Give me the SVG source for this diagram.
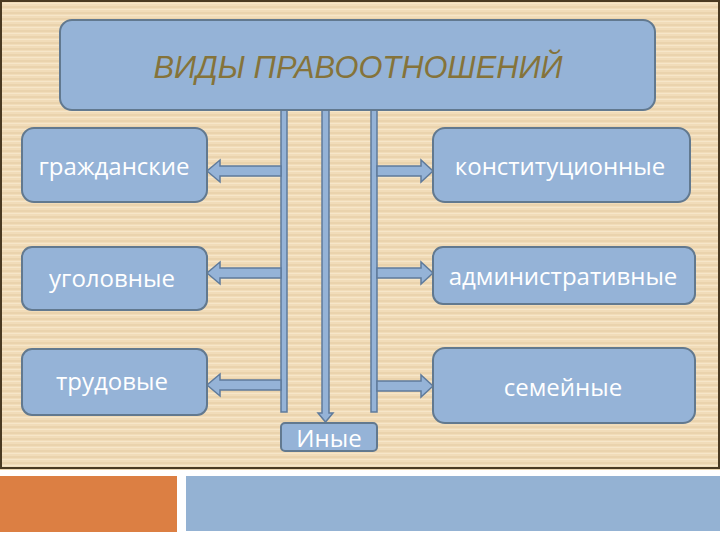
<svg xmlns="http://www.w3.org/2000/svg" width="720" height="540" viewBox="0 0 720 540">
<defs>
<pattern id="stripes" width="8" height="6" patternUnits="userSpaceOnUse">
<rect width="8" height="6" fill="#f1dcb9"/>
<rect y="0" width="8" height="2" fill="#ead3ad"/>
<rect y="3" width="8" height="1" fill="#f6e6c9"/>
</pattern>
<style>
.box{fill:#95b3d7;stroke:#62798f;stroke-width:2}
.arr{fill:#95b3d7;stroke:#5f7b9c;stroke-width:1.5}
.lbl{font-family:"Open Sans","Liberation Sans",sans-serif;font-size:24px;fill:#ffffff;text-anchor:middle}
.title{font-family:"Liberation Sans",sans-serif;font-style:italic;font-size:32px;fill:#85733a;text-anchor:middle}
</style>
</defs>
<rect width="720" height="540" fill="#ffffff"/>
<rect x="0" y="0" width="720" height="470" fill="url(#stripes)"/>
<rect x="1" y="1" width="718" height="467" fill="none" stroke="#4a3a22" stroke-width="2"/>
<rect x="0" y="476" width="177" height="56" fill="#dc7f43"/>
<rect x="186" y="476" width="534" height="55" fill="#94b2d3"/>

<g id="connectors">
<rect class="arr" x="281" y="110" width="6" height="302"/>
<path class="arr" d="M322,110 V413 H318 L325.5,422 L333,413 H329 V110 Z"/>
<rect class="arr" x="371" y="110" width="6" height="302"/>
<path class="arr" d="M281,166 H220 V160 L207,171 L220,182 V176 H281 Z"/>
<path class="arr" d="M281,268 H220 V262 L207,273 L220,284 V278 H281 Z"/>
<path class="arr" d="M281,380 H220 V374 L207,385 L220,396 V390 H281 Z"/>
<path class="arr" d="M377,166 H421 V160 L433,171 L421,182 V176 H377 Z"/>
<path class="arr" d="M377,268 H421 V262 L433,273 L421,284 V278 H377 Z"/>
<path class="arr" d="M377,381 H421 V375 L433,386 L421,397 V391 H377 Z"/>
</g>

<g id="title">
<rect class="box" x="60" y="20" width="595" height="90" rx="12"/>
<text class="title" x="358" y="78" textLength="409" lengthAdjust="spacingAndGlyphs">ВИДЫ ПРАВООТНОШЕНИЙ</text>
</g>
<g id="civil">
<rect class="box" x="22" y="128" width="185" height="74" rx="12"/>
<text class="lbl" x="114" y="175">гражданские</text>
</g>
<g id="criminal">
<rect class="box" x="22" y="247" width="185" height="63" rx="10"/>
<text class="lbl" x="112" y="287">уголовные</text>
</g>
<g id="labor">
<rect class="box" x="22" y="349" width="185" height="66" rx="10"/>
<text class="lbl" x="112" y="390">трудовые</text>
</g>
<g id="constitutional">
<rect class="box" x="433" y="128" width="257" height="74" rx="12"/>
<text class="lbl" x="560" y="175">конституционные</text>
</g>
<g id="administrative">
<rect class="box" x="433" y="247" width="262" height="57" rx="10"/>
<text class="lbl" x="563" y="285">административные</text>
</g>
<g id="family">
<rect class="box" x="433" y="348" width="262" height="75" rx="12"/>
<text class="lbl" x="563" y="396">семейные</text>
</g>
<g id="other">
<rect class="box" x="281" y="423" width="96" height="28" rx="4"/>
<text class="lbl" x="329" y="447">Иные</text>
</g>
</svg>
